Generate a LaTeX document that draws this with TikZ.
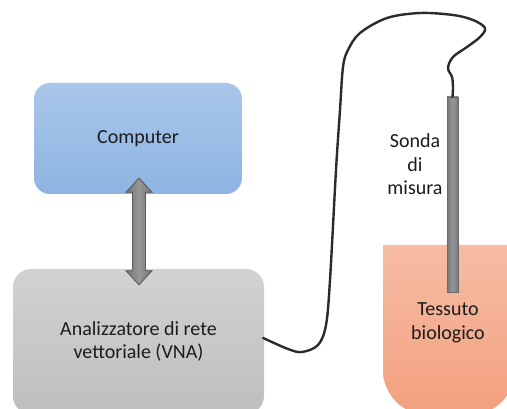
\documentclass[tikz,border=0pt]{standalone}
\usepackage{fontspec}
\setmainfont{Carlito}
\usetikzlibrary{calc}
\definecolor{txt}{HTML}{1C1C1C}
\definecolor{cable}{HTML}{2B2B2B}
\tikzset{
  box/.style={rectangle, rounded corners=16pt, draw=none, text=txt, align=center,
    font=\fontsize{20}{23.5}\selectfont},
  label/.style={text=txt, align=center, font=\fontsize{20}{23.5}\selectfont, inner sep=0pt},
}
\begin{document}
\begin{tikzpicture}[x=1pt,y=-1pt]
\useasboundingbox (0,0) rectangle (507,409);
\clip (0,0) rectangle (507,409);
\fill[white] (0,0) rectangle (507,409);
% tissue container
\shade[top color={rgb,255:red,246;green,188;blue,164}, bottom color={rgb,255:red,243;green,160;blue,126}]
  (383,245) -- (383,370) arc[start angle=180,end angle=90,radius=45] -- (470,415)
  arc[start angle=90,end angle=0,radius=45] -- (515,245) -- cycle;
% boxes
\node[box, top color={rgb,255:red,170;green,198;blue,234}, bottom color={rgb,255:red,141;green,180;blue,226},
  minimum width=208pt, minimum height=111pt] (comp) at (138,138.5) {Computer};
\node[box, rounded corners=18pt, top color={rgb,255:red,210;green,210;blue,210}, bottom color={rgb,255:red,190;green,190;blue,190},
  minimum width=251pt, minimum height=145pt] (vna) at (138.5,341.5) {};
\node[label] (vnatext) at (138.5,341.5) {Analizzatore di rete\\vettoriale (VNA)};
% double arrow
\coordinate (atop) at ($(comp.south)+(1,-16)$);
\coordinate (abot) at ($(vna.north)+(0.5,16)$);
\filldraw[draw={rgb,255:red,90;green,90;blue,90}, line width=0.8pt, left color={rgb,255:red,115;green,115;blue,115}, right color={rgb,255:red,115;green,115;blue,115}, middle color={rgb,255:red,150;green,150;blue,150}, line join=miter]
  (atop) -- ($(atop)+(13,14)$) -- ($(atop)+(6.5,14)$) -- ($(abot)+(6.5,-14)$) -- ($(abot)+(13,-14)$)
  -- (abot) -- ($(abot)+(-13,-14)$) -- ($(abot)+(-6.5,-14)$) -- ($(atop)+(-6.5,14)$) -- ($(atop)+(-13,14)$) -- cycle;
% probe
\node[rectangle, draw={rgb,255:red,105;green,105;blue,105}, line width=0.5pt,
  left color={rgb,255:red,120;green,120;blue,120}, right color={rgb,255:red,120;green,120;blue,120}, middle color={rgb,255:red,150;green,150;blue,150},
  minimum width=11pt, minimum height=195pt, inner sep=0pt] (probe) at (452.5,194.5) {};
% labels
\node[label] (sonda) at (415,164.5) {Sonda\\di\\misura};
\node[label] (tess) at (448,323) {Tessuto\\biologico};
% cable
\coordinate (cstart) at ($(vna.east)+(-1,-3.5)$);
\draw[cable, line width=2.4pt, line cap=round, line join=round]
  plot[smooth, tension=0.55] coordinates {(cstart) (288,349) (302,352) (318,345) (326,325) (330,280)
   (336,170) (340,110) (343,67) (348,50) (360,33) (387,18) (420,13) (453,15) (473,20) (485,28)
   (480,37) (467,47) (453,57) (448,68) (452,77) (453,87) (probe.north)};
\end{tikzpicture}
\end{document}
